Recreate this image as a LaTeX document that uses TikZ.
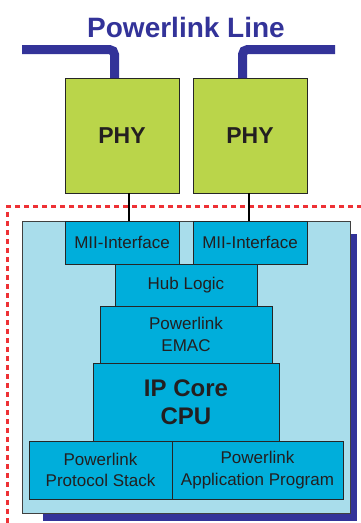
\documentclass[tikz,border=0pt]{standalone}
\usepackage{fontspec}
\setmainfont{Liberation Sans}
\begin{document}
\begin{tikzpicture}[x=1pt,y=-1pt,
  every node/.style={inner sep=0pt, outer sep=0pt, text=txt},
  phybox/.style={draw=black!85, line width=0.8pt, fill=phygreen, font=\fontsize{23}{26}\selectfont\bfseries},
  blk/.style={draw=black!85, line width=0.8pt, fill=cyanbox, align=center, font=\fontsize{17}{21.5}\selectfont},
  bigblk/.style={blk, font=\fontsize{24}{28}\selectfont\bfseries},
  netline/.style={draw=navy, line width=9pt, rounded corners=5pt},
  wire/.style={draw=black, line width=1.2pt}
]
\definecolor{navy}{HTML}{333399}
\definecolor{phygreen}{HTML}{BAD54A}
\definecolor{cyanbox}{HTML}{00AEDB}
\definecolor{panelblue}{HTML}{A9DDEB}
\definecolor{txt}{HTML}{231F20}
\definecolor{reddash}{HTML}{EE3135}
\useasboundingbox (0,0) rectangle (360,523);
\fill[white] (0,0) rectangle (360,523);
% title
\node (title) at (186,27) {\fontsize{28}{32}\selectfont\bfseries\color{navy}Powerlink Line};
% PHY boxes
\node[phybox, minimum width=114pt, minimum height=115pt] (phyL) at (122,135.5) {PHY};
\node[phybox, minimum width=114pt, minimum height=115pt] (phyR) at (250,135.5) {PHY};
% network lines
\coordinate (nlA) at (22,49.5);
\coordinate (nlB) at (335,49.5);
\draw[netline] (nlA) -- (114.5,49.5) -- (114.5,78);
\draw[netline] (nlB) -- (242.5,49.5) -- (242.5,78);
% red dashed boundary
\draw[reddash, line width=2.2pt, dash pattern=on 5pt off 4pt] (362,206.5) -- (7.5,206.5) -- (7.5,525);
% shadow and panel
\fill[navy] (43,234) rectangle (357,521);
\node[draw=black!75, line width=0.8pt, fill=panelblue, minimum width=328pt, minimum height=292pt] (panel) at (186,367) {};
% blocks
\node[blk, minimum width=114pt, minimum height=43pt] (miiL) at (122,242.5) {MII-Interface};
\node[blk, minimum width=114pt, minimum height=43pt] (miiR) at (250,242.5) {MII-Interface};
\node[blk, minimum width=142pt, minimum height=42pt] (hub) at (186,285) {Hub Logic};
\node[blk, minimum width=172pt, minimum height=57pt] (emac) at (186,334.5) {Powerlink\\EMAC};
\node[bigblk, minimum width=186pt, minimum height=78pt] (cpu) at (186,402) {IP Core\\CPU};
\node[blk, minimum width=143pt, minimum height=58pt] (stack) at (100.5,470) {Powerlink\\Protocol Stack};
\node[blk, minimum width=171pt, minimum height=58pt] (app) at (257.5,470) {Powerlink\\Application Program};
% wires
\draw[wire] (phyL.south -| 129,0) -- (miiL.north -| 129,0);
\draw[wire] (phyR.south -| 249,0) -- (miiR.north -| 249,0);
\end{tikzpicture}
\end{document}
